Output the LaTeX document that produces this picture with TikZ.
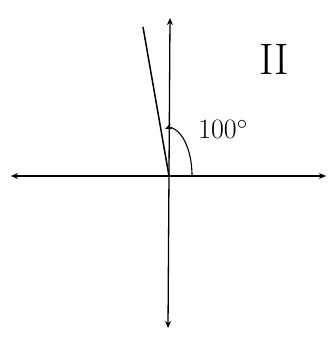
\documentclass[tikz,border=0pt]{standalone}
\usepackage{tikz}
\usetikzlibrary{arrows.meta,positioning}

\begin{document}
\begin{tikzpicture}[
    x=1pt, y=-1pt,
    axis/.style={draw, line width=1.3pt, {Stealth[length=7pt,width=6pt]}-{Stealth[length=7pt,width=6pt]}},
    ray/.style={draw, line width=1.5pt},
    anglearc/.style={draw, line width=1.1pt, -{Stealth[length=7pt,width=6pt]}},
    >=Stealth
]
\useasboundingbox (0,0) rectangle (328,339);
\coordinate (origin) at (169,176);
\coordinate (left) at (11,176);
\coordinate (right) at (326,176);
\coordinate (top) at (170,18);
\coordinate (bottom) at (168,328);
\coordinate (tip) at (143,27);
\draw[axis] (left) -- (right);
\draw[axis] (bottom) -- (top);
\draw[ray] (origin) -- (tip);
\draw[anglearc] ([xshift=23pt]origin) arc[start angle=0, end angle=100, x radius=23, y radius=-48];
\node (angle) at (223,129) {\fontsize{28}{32}\selectfont 100$^\circ$};
\node (quadrant) at (274,59) {\fontsize{44}{48}\selectfont II};
\end{tikzpicture}
\end{document}
